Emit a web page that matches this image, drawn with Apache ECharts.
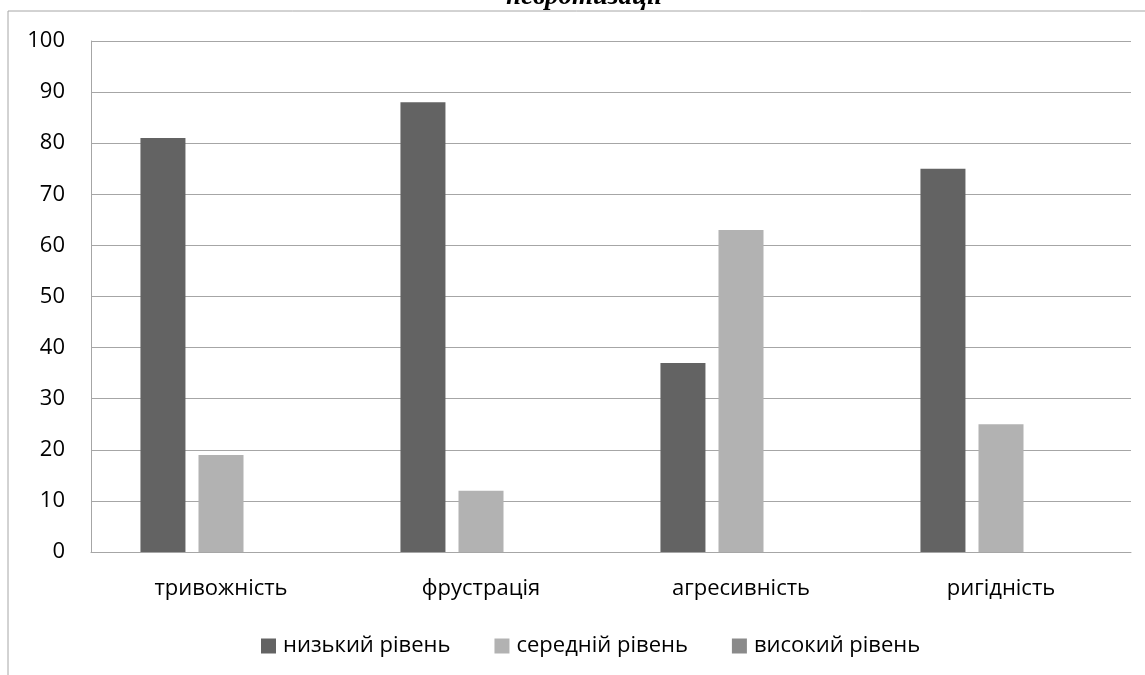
<!DOCTYPE html>
<html>
<head>
<meta charset="utf-8">
<script src="https://cdn.jsdelivr.net/npm/echarts@6/dist/echarts.min.js"></script>
<style>
  html, body { margin: 0; padding: 0; background: #fff; }
  #chart { width: 1145px; height: 675px; }
</style>
</head>
<body>
<div id="chart"></div>
<script>
var categories = ["тривожність", "фрустрація", "агресивність", "ригідність"];
var lowLevel = [81, 88, 37, 75];
var midLevel = [19, 12, 63, 25];
var highLevel = [0, 0, 0, 0];
var seriesNames = ["низький рівень", "середній рівень", "високий рівень"];

var chartDom = document.getElementById("chart");
var myChart = echarts.init(chartDom);
var font = "'Open Sans', 'Noto Sans', sans-serif";

var option = {
  animation: false,
  textStyle: { fontFamily: font },
  graphic: [
    {
      // title is cut off at the top edge in the original
      type: "text",
      left: 506,
      top: -16,
      style: {
        text: "невротизації",
        font: "italic bold 27px 'Liberation Serif', serif",
        fill: "#000"
      }
    },
    {
      type: "polyline",
      shape: { points: [[8, 675], [8, 11], [1145, 11]] },
      style: { stroke: "#a6a6a6", lineWidth: 1, fill: null }
    }
  ],
  legend: {
    bottom: 13,
    left: 256,
    itemWidth: 15,
    itemHeight: 15,
    itemGap: 44,
    icon: "rect",
    textStyle: { fontSize: 22, color: "#000", fontFamily: font, padding: [0, 0, 0, 2] },
    data: seriesNames
  },
  grid: {
    left: 91,
    right: 14,
    top: 41,
    bottom: 123
  },
  xAxis: {
    type: "category",
    data: categories,
    axisLine: { lineStyle: { color: "#a6a6a6" } },
    axisTick: { show: false },
    axisLabel: { fontSize: 22, color: "#000", margin: 26, fontFamily: font }
  },
  yAxis: {
    type: "value",
    min: 0,
    max: 100,
    interval: 10,
    axisLine: { show: true, lineStyle: { color: "#a6a6a6" } },
    axisTick: { show: false },
    splitLine: { lineStyle: { color: "#a6a6a6" } },
    axisLabel: { fontSize: 22, color: "#000", margin: 26, fontFamily: font }
  },
  series: [
    {
      name: seriesNames[0],
      type: "bar",
      data: lowLevel,
      barWidth: 45,
      barGap: "29%",
      itemStyle: { color: "#636363" }
    },
    {
      name: seriesNames[1],
      type: "bar",
      data: midLevel,
      barWidth: 45,
      itemStyle: { color: "#b2b2b2" }
    },
    {
      name: seriesNames[2],
      type: "bar",
      data: highLevel,
      barWidth: 45,
      itemStyle: { color: "#8a8a8a" }
    }
  ]
};

myChart.setOption(option);
window.addEventListener("resize", myChart.resize);
</script>
</body>
</html>
